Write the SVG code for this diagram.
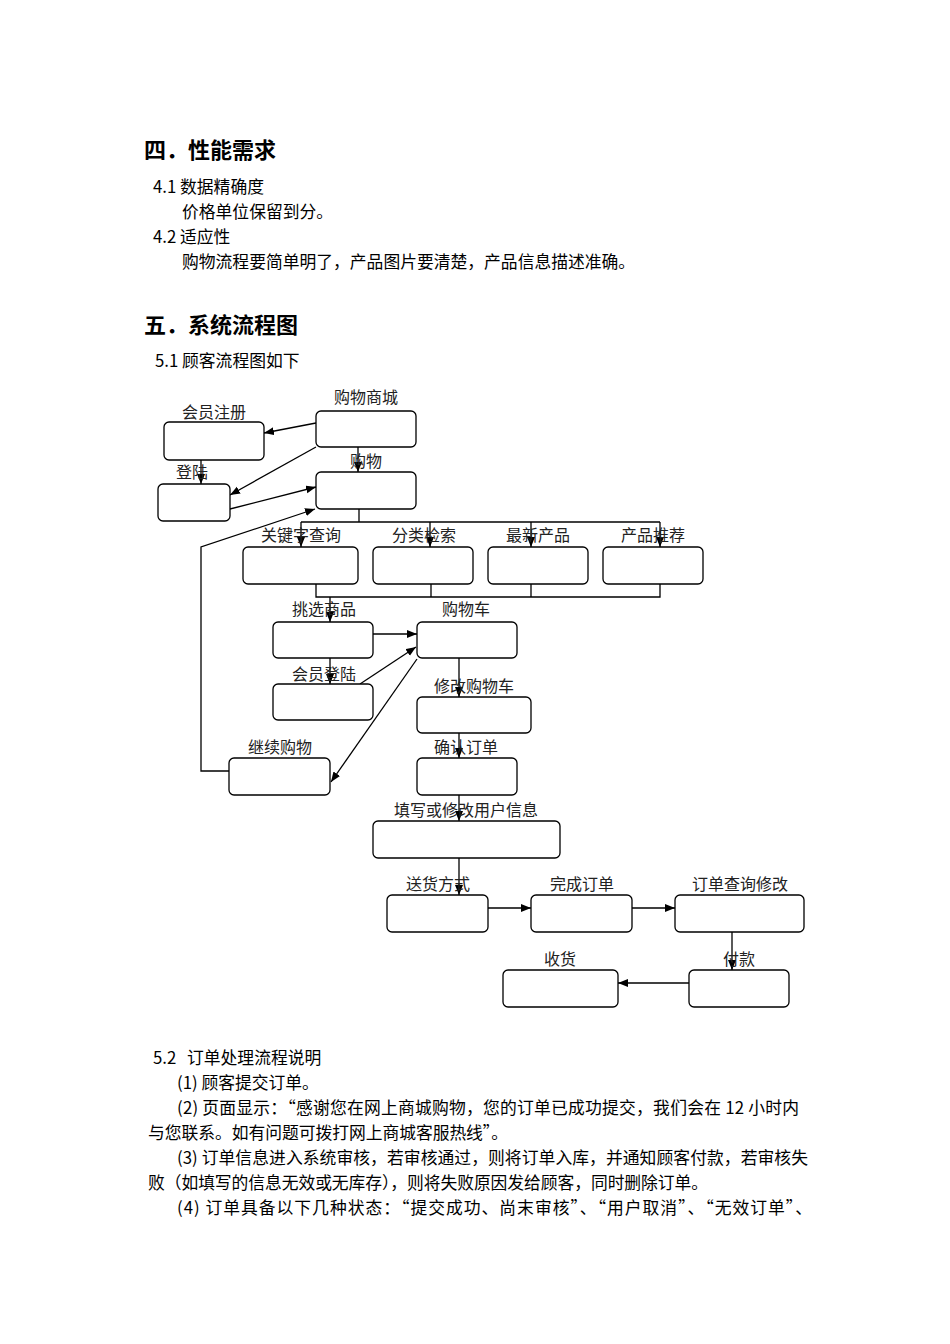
<svg xmlns="http://www.w3.org/2000/svg" width="950" height="1344" viewBox="0 0 950 1344">
<style>
.bg{fill:#ffffff}
.h{font-family:"Noto Sans CJK SC","Noto Sans",sans-serif;font-size:22px;font-weight:bold;fill:#000}
.t{font-family:"Noto Sans CJK SC","Noto Sans",sans-serif;font-size:16.8px;fill:#000}
.box{fill:#fff;stroke:#000;stroke-width:1.3}
.lbl{font-family:"Noto Sans CJK SC",sans-serif;font-size:16px;fill:#222;text-anchor:middle}
.c{fill:none;stroke:#000;stroke-width:1.3}
.a{marker-end:url(#arr)}
</style>
<defs>
<marker id="arr" markerUnits="userSpaceOnUse" markerWidth="11" markerHeight="9" refX="10" refY="4" orient="auto">
<path d="M0,0 L10,4 L0,8 z" fill="#000"/>
</marker>
</defs>
<rect class="bg" x="0" y="0" width="950" height="1344"/>

<g id="text-top">
<text class="h" x="144" y="158">四．性能需求</text>
<text class="t" x="153" y="193">4.1 数据精确度</text>
<text class="t" x="182" y="218">价格单位保留到分。</text>
<text class="t" x="153" y="243">4.2 适应性</text>
<text class="t" x="182" y="268">购物流程要简单明了，产品图片要清楚，产品信息描述准确。</text>
<text class="h" x="144" y="333">五．系统流程图</text>
<text class="t" x="155" y="367">5.1 顾客流程图如下</text>
</g>

<g id="connectors">
<line class="c a" x1="316" y1="423" x2="264" y2="433"/>
<line class="c a" x1="201" y1="460" x2="201" y2="484"/>
<line class="c a" x1="316" y1="447" x2="230" y2="495"/>
<line class="c a" x1="358" y1="447" x2="358" y2="472"/>
<line class="c a" x1="230" y1="509" x2="316" y2="487"/>
<polyline class="c a" points="229,771 201,771 201,547 315,509"/>
<line class="c" x1="359" y1="509" x2="359" y2="522"/>
<line class="c" x1="301" y1="522" x2="660" y2="522"/>
<line class="c a" x1="301" y1="522" x2="301" y2="547"/>
<line class="c a" x1="430" y1="522" x2="430" y2="547"/>
<line class="c a" x1="531" y1="522" x2="531" y2="547"/>
<line class="c a" x1="660" y1="522" x2="660" y2="547"/>
<polyline class="c" points="316,584 316,597 660,597 660,584"/>
<line class="c" x1="431" y1="584" x2="431" y2="597"/>
<line class="c" x1="531" y1="584" x2="531" y2="597"/>
<line class="c a" x1="330" y1="597" x2="330" y2="622"/>
<line class="c a" x1="330" y1="658" x2="330" y2="684"/>
<line class="c a" x1="373" y1="634" x2="417" y2="634"/>
<line class="c a" x1="360" y1="684" x2="416" y2="647"/>
<line class="c a" x1="417" y1="659" x2="331" y2="782"/>
<line class="c a" x1="459" y1="658" x2="459" y2="697"/>
<line class="c a" x1="459" y1="733" x2="459" y2="758"/>
<line class="c a" x1="459" y1="795" x2="459" y2="821"/>
<line class="c a" x1="459" y1="858" x2="459" y2="895"/>
<line class="c a" x1="488" y1="908" x2="531" y2="908"/>
<line class="c a" x1="632" y1="908" x2="675" y2="908"/>
<line class="c a" x1="732" y1="932" x2="732" y2="970"/>
<line class="c a" x1="689" y1="983" x2="618" y2="983"/>
</g>

<g id="n-mall"><rect class="box" x="316" y="411" width="100" height="36" rx="5"/><text class="lbl" x="366" y="403">购物商城</text></g>
<g id="n-register"><rect class="box" x="164" y="422" width="100" height="38" rx="5"/><text class="lbl" x="214" y="418">会员注册</text></g>
<g id="n-login"><rect class="box" x="158" y="484" width="72" height="37" rx="5"/><text class="lbl" x="192" y="478">登陆</text></g>
<g id="n-shop"><rect class="box" x="316" y="472" width="100" height="37" rx="5"/><text class="lbl" x="366" y="467">购物</text></g>
<g id="n-keyword"><rect class="box" x="243" y="547" width="115" height="37" rx="5"/><text class="lbl" x="301" y="541">关键字查询</text></g>
<g id="n-category"><rect class="box" x="373" y="547" width="100" height="37" rx="5"/><text class="lbl" x="424" y="541">分类检索</text></g>
<g id="n-newest"><rect class="box" x="488" y="547" width="100" height="37" rx="5"/><text class="lbl" x="538" y="541">最新产品</text></g>
<g id="n-recommend"><rect class="box" x="603" y="547" width="100" height="37" rx="5"/><text class="lbl" x="653" y="541">产品推荐</text></g>
<g id="n-pick"><rect class="box" x="273" y="622" width="100" height="36" rx="5"/><text class="lbl" x="324" y="615">挑选商品</text></g>
<g id="n-cart"><rect class="box" x="417" y="622" width="100" height="36" rx="5"/><text class="lbl" x="466" y="615">购物车</text></g>
<g id="n-memberlogin"><rect class="box" x="273" y="684" width="100" height="36" rx="5"/><text class="lbl" x="324" y="680">会员登陆</text></g>
<g id="n-editcart"><rect class="box" x="417" y="697" width="114" height="36" rx="5"/><text class="lbl" x="474" y="692">修改购物车</text></g>
<g id="n-continue"><rect class="box" x="229" y="758" width="101" height="37" rx="5"/><text class="lbl" x="280" y="753">继续购物</text></g>
<g id="n-confirm"><rect class="box" x="417" y="758" width="100" height="37" rx="5"/><text class="lbl" x="466" y="753">确认订单</text></g>
<g id="n-userinfo"><rect class="box" x="373" y="821" width="187" height="37" rx="5"/><text class="lbl" x="466" y="816">填写或修改用户信息</text></g>
<g id="n-delivery"><rect class="box" x="387" y="895" width="101" height="37" rx="5"/><text class="lbl" x="438" y="890">送货方式</text></g>
<g id="n-complete"><rect class="box" x="531" y="895" width="101" height="37" rx="5"/><text class="lbl" x="582" y="890">完成订单</text></g>
<g id="n-query"><rect class="box" x="675" y="895" width="129" height="37" rx="5"/><text class="lbl" x="740" y="890">订单查询修改</text></g>
<g id="n-pay"><rect class="box" x="689" y="970" width="100" height="37" rx="5"/><text class="lbl" x="739" y="965">付款</text></g>
<g id="n-receive"><rect class="box" x="503" y="970" width="115" height="37" rx="5"/><text class="lbl" x="560" y="965">收货</text></g>

<g id="text-bottom">
<text class="t" x="153" y="1064">5.2<tspan x="187">订单处理流程说明</tspan></text>
<text class="t" x="177" y="1089">(1) 顾客提交订单。</text>
<text class="t" x="177" y="1114" textLength="622" lengthAdjust="spacing">(2) 页面显示：“感谢您在网上商城购物，您的订单已成功提交，我们会在 12 小时内</text>
<text class="t" x="148" y="1139" textLength="360" lengthAdjust="spacing">与您联系。如有问题可拨打网上商城客服热线”。</text>
<text class="t" x="177" y="1164" textLength="631" lengthAdjust="spacing">(3) 订单信息进入系统审核，若审核通过，则将订单入库，并通知顾客付款，若审核失</text>
<text class="t" x="148" y="1189" textLength="560" lengthAdjust="spacing">败（如填写的信息无效或无库存），则将失败原因发给顾客，同时删除订单。</text>
<text class="t" x="177" y="1214" textLength="635" lengthAdjust="spacing">(4) 订单具备以下几种状态：“提交成功、尚末审核”、“用户取消”、“无效订单”、</text>
</g>
</svg>
